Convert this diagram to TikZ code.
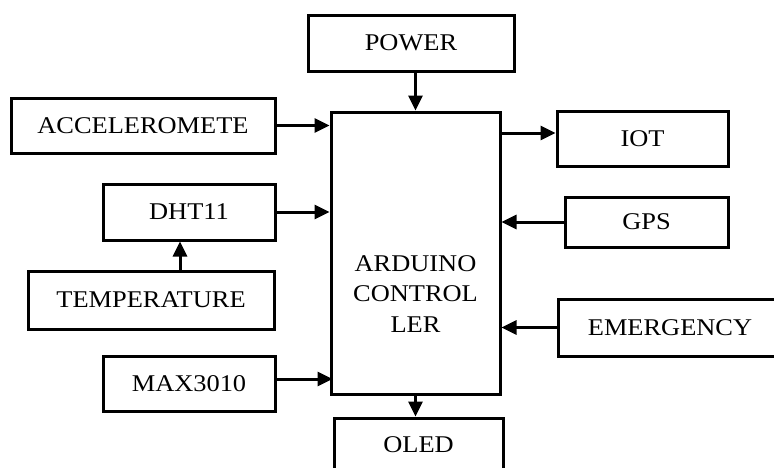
\documentclass[tikz,border=0pt]{standalone}
\usepackage{fontspec}
\setmainfont[FakeStretch=1.1]{Liberation Serif}
\usetikzlibrary{arrows.meta}
\begin{document}
\begin{tikzpicture}[x=1pt,y=-1pt,
  blk/.style={draw=black, line width=3pt, rectangle, inner sep=0pt,
    font=\fontsize{24}{30.5}\selectfont},
  arr/.style={line width=3pt, -{Triangle[length=15pt,width=14pt]}}]
\useasboundingbox (0,0) rectangle (774,467);
\clip (0,0) rectangle (774,467);
\node[blk, minimum width=206pt, minimum height=56pt] (power) at (411,43) {POWER};
\node[blk, minimum width=264pt, minimum height=55pt] (acc) at (143,125.5) {ACCELEROMETE};
\node[blk, minimum width=169pt, minimum height=282pt] (ard) at (415.5,253) {};
\node[align=center, inner sep=0pt, font=\fontsize{24}{30.5}\selectfont] (ardtext) at (415.5,294) {ARDUINO\\CONTROL\\LER};
\node[blk, minimum width=172pt, minimum height=56pt] (dht) at (189,212) {DHT11};
\node[blk, minimum width=246pt, minimum height=58pt] (temp) at (151,300) {TEMPERATURE};
\node[blk, minimum width=172pt, minimum height=55pt] (max) at (189,383.5) {MAX3010};
\node[blk, minimum width=169pt, minimum height=54pt] (oled) at (418.5,445) {OLED};
\node[blk, minimum width=171pt, minimum height=55pt] (iot) at (642.5,138.5) {IOT};
\node[blk, minimum width=163pt, minimum height=50pt] (gps) at (646.5,222) {GPS};
\node[blk, minimum width=224pt, minimum height=57pt] (emg) at (670,327.5) {EMERGENCY};
\coordinate (tx) at (180,0);
\draw[arr] (ard.north |- power.south) -- (ard.north);
\draw[arr] (acc.east) -- (acc.east -| ard.west);
\draw[arr] (dht.east) -- (dht.east -| ard.west);
\draw[arr] (tx |- temp.north) -- (tx |- dht.south);
\draw[arr] ([yshift=4.5pt]max.east) -- ([yshift=4.5pt,xshift=3pt]max.east -| ard.west);
\draw[arr] ([yshift=5.5pt]iot.west -| ard.east) -- ([yshift=5.5pt]iot.west);
\draw[arr] (gps.west) -- (gps.west -| ard.east);
\draw[arr] (emg.west) -- (emg.west -| ard.east);
\draw[arr] (ard.south) -- (ard.south |- oled.north);
\end{tikzpicture}
\end{document}
